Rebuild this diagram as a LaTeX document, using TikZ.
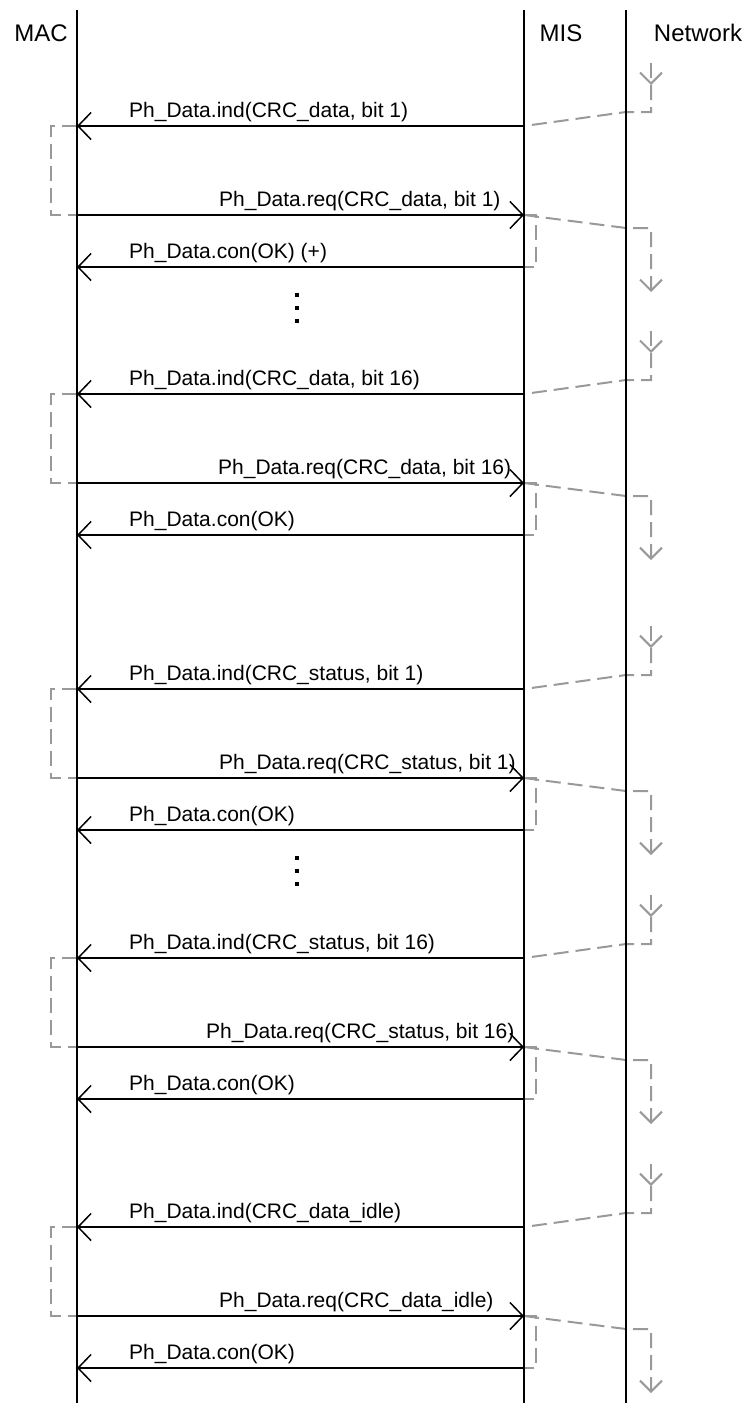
\documentclass[tikz,border=0pt]{standalone}
\usepackage{fontspec}
\setmainfont{Liberation Sans}
\usepackage{tikz}
\usetikzlibrary{arrows.meta}
\usepackage{xcolor}
\definecolor{siggray}{RGB}{153, 153, 153}

\begin{document}
\begin{tikzpicture}[x=1pt, y=-1pt]
    \tikzstyle{title} = [font=\fontsize{24}{28}\selectfont, anchor=base, inner sep=0pt]
    \tikzstyle{lbl} = [font=\fontsize{21}{25}\selectfont, anchor=base west, inner sep=0pt]
    \tikzstyle{lifeline} = [line width=1.5pt, black]
    \tikzstyle{msg} = [line width=1.5pt, -{Straight Barb[length=13pt, width=27pt]}]
    \tikzstyle{sig} = [line width=2pt, siggray, dash pattern=on 15pt off 7pt]
    \tikzstyle{sigarrow} = [sig, -{Straight Barb[length=11pt, width=22pt]}]

    \useasboundingbox (0,0) rectangle (750,1403);

    \node (mac) [title] at (41,41) {MAC};
    \node (mis) [title] at (561,41) {MIS};
    \node (net) [title] at (698,41) {Network};

    \coordinate (macT) at (77,10);   \coordinate (macB) at (77,1403);
    \coordinate (misT) at (524,10);  \coordinate (misB) at (524,1403);
    \coordinate (netT) at (626,10);  \coordinate (netB) at (626,1403);

    \foreach \i/\y/\txt/\extra/\rx in {1/126/{CRC\_data, bit 1}/{ (+)}/219,
                                      2/394/{CRC\_data, bit 16}/{}/218,
                                      3/689/{CRC\_status, bit 1}/{}/219,
                                      4/958/{CRC\_status, bit 16}/{}/206,
                                      5/1227/{CRC\_data\_idle}/{}/219} {
        \coordinate (indR\i) at (524,\y);
        \coordinate (indL\i) at (77,\y);
        \coordinate (reqL\i) at (77,{\y+89});
        \coordinate (reqR\i) at (524,{\y+89});
        \coordinate (conR\i) at (524,{\y+141});
        \coordinate (conL\i) at (77,{\y+141});
        \coordinate (rxN\i) at (651,{\y-63});
        \coordinate (txN\i) at (651,{\y+166});

        % network side
        \draw [sigarrow] (rxN\i) -- ++(0,22);
        \draw [sig] (rxN\i) ++(0,22) -- ++(0,27) -- ++(-25,0) -- (indR\i);
        \draw [sigarrow] (reqR\i) -- ++(102,13) -- ++(25,0) -- (txN\i);
        \draw [sig] (indL\i) -- ++(-26,0) |- (reqL\i);
        \draw [sig] (reqR\i) -- ++(12,0) |- (conR\i);

        % primitives
        \draw [msg] (indR\i) -- (indL\i);
        \draw [msg] (reqL\i) -- (reqR\i);
        \draw [msg] (conR\i) -- (conL\i);
        \node (ind\i) [lbl] at (129,{\y-9}) {Ph\_Data.ind(\txt)};
        \node (req\i) [lbl] at (\rx,{\y+80}) {Ph\_Data.req(\txt)};
        \node (con\i) [lbl] at (129,{\y+132}) {Ph\_Data.con(OK)\extra};
    }

    \foreach \y in {295,858}
        \foreach \d in {0,13,26}
            \fill (295,{\y+\d-2}) rectangle ++(4,4);

    \draw [lifeline] (macT) -- (macB);
    \draw [lifeline] (misT) -- (misB);
    \draw [lifeline] (netT) -- (netB);
\end{tikzpicture}
\end{document}
